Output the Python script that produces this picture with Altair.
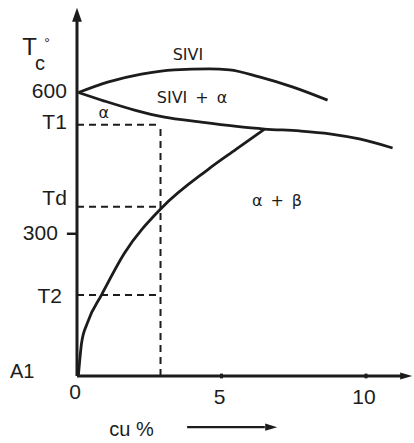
import altair as alt
import pandas as pd

# ---- curve data (cu %, temperature °C) ----
upper_cu = [0.05, 1.06, 2.23, 3.37, 4.58, 5.28, 6.31, 7.45, 8.67]
upper_t = [598, 620, 637, 646, 648, 646, 631, 610, 582]

lower_cu = [0.05, 0.95, 1.99, 3.03, 4.24, 5.45, 6.49, 7.70, 8.74, 9.77, 10.92]
lower_t = [598, 580, 561, 546, 536, 527, 521, 517, 511, 500, 481]

solvus_cu = [0.05, 0.16, 0.36, 0.85, 1.64, 2.92, 4.52, 5.5, 6.49]
solvus_t = [2, 70, 112, 171, 259, 354, 435, 478, 521]

# characteristic temperatures and composition
T1, Td, T2 = 530, 357, 171
cu_mark = 2.89

y_tick_labels = ["600", "T1", "Td", "300", "T2"]
y_tick_values = [600, 533, 373, 300, 167]
x_tick_labels = ["0", "5", "10"]
x_tick_values = [0, 5, 10]

region_labels = ["SIVI", "SIVI\u2002+\u2002α", "α", "α\u2002+\u2002β"]
region_cu = [3.84, 3.98, 0.93, 6.92]
region_t = [677, 586, 555, 369]

INK = "#1c1c1c"
FONT = "Liberation Sans"

xs = alt.Scale(domain=[-2.664, 11.661], nice=False, zero=False)
ys = alt.Scale(domain=[-141.4, 793.2], nice=False, zero=False)


def X(field="x"):
    return alt.X(f"{field}:Q", scale=xs, axis=None)


def Y(field="y"):
    return alt.Y(f"{field}:Q", scale=ys, axis=None)


def curve(cu, t):
    df = pd.DataFrame({"x": cu, "y": t})
    return alt.Chart(df).mark_line(interpolate="monotone", strokeWidth=2.8, color=INK).encode(
        x=X(), y=Y()
    )


layers = [curve(upper_cu, upper_t), curve(lower_cu, lower_t), curve(solvus_cu, solvus_t)]

# dashed guide lines
dash_h = pd.DataFrame({"x": [0, 0, 0], "x2": [cu_mark] * 3, "y": [T1, Td, T2]})
layers.append(
    alt.Chart(dash_h).mark_rule(strokeWidth=2, strokeDash=[7, 5], color=INK).encode(
        x=X(), x2="x2:Q", y=Y()
    )
)
dash_v = pd.DataFrame({"x": [cu_mark], "y": [0], "y2": [T1]})
layers.append(
    alt.Chart(dash_v).mark_rule(strokeWidth=2, strokeDash=[7, 5], color=INK).encode(
        x=X(), y=Y(), y2="y2:Q"
    )
)

# axes as arrows
axes = pd.DataFrame({"x": [0, 0], "x2": [0, 11.35], "y": [0, 0], "y2": [752, 0]})
layers.append(
    alt.Chart(axes).mark_rule(strokeWidth=3, color=INK).encode(x=X(), x2="x2:Q", y=Y(), y2="y2:Q")
)
up_arrow = pd.DataFrame({"x": [0], "y": [762]})
layers.append(
    alt.Chart(up_arrow).mark_point(
        shape="M0,-1L0.7,1L-0.7,1Z", size=196, filled=True, opacity=1, color=INK
    ).encode(x=X(), y=Y())
)
right_arrow = pd.DataFrame({"x": [11.39, 6.72], "y": [0, -108]})
layers.append(
    alt.Chart(right_arrow).mark_point(
        shape="M1,0L-1,-0.6L-1,0.6Z", size=144, filled=True, opacity=1, color=INK
    ).encode(x=X(), y=Y())
)
# composition arrow under the axis
cu_arrow = pd.DataFrame({"x": [3.81], "x2": [6.5], "y": [-108]})
layers.append(
    alt.Chart(cu_arrow).mark_rule(strokeWidth=2.2, color=INK).encode(x=X(), x2="x2:Q", y=Y())
)

# tick marks
xt = pd.DataFrame({"x": [5, 10], "y": [-5, -5], "y2": [5, 5]})
layers.append(
    alt.Chart(xt).mark_rule(strokeWidth=3, color=INK).encode(x=X(), y=Y(), y2="y2:Q")
)
yt = pd.DataFrame({"x": [-0.35], "x2": [0], "y": [300]})
layers.append(
    alt.Chart(yt).mark_rule(strokeWidth=2.5, color=INK).encode(x=X(), x2="x2:Q", y=Y())
)

# y tick labels
ylab = pd.DataFrame(
    {"label": y_tick_labels, "y": y_tick_values, "x": [-0.35, -0.35, -0.35, -0.66, -0.52]}
)
layers.append(
    alt.Chart(ylab).mark_text(align="right", baseline="middle", fontSize=21, font=FONT, color=INK).encode(
        x=X(), y=Y(), text="label:N"
    )
)
# x tick labels
xlab = pd.DataFrame({"label": x_tick_labels, "x": x_tick_values, "y": [-36, -46, -46]})
layers.append(
    alt.Chart(xlab).mark_text(align="center", baseline="middle", dx=-2, fontSize=21, font=FONT, color=INK).encode(
        x=X(), y=Y(), text="label:N"
    )
)
# A1 and cu % labels
misc = pd.DataFrame({"label": ["A1", "cu %"], "x": [-2.32, 1.12], "y": [8, -114]})
layers.append(
    alt.Chart(misc).mark_text(align="left", baseline="middle", fontSize=20, font=FONT, color=INK).encode(
        x=X(), y=Y(), text="label:N"
    )
)
# axis title T_c°
tc = pd.DataFrame({"label": ["T", "c", "°"], "x": [-1.64, -1.28, -1.04], "y": [692, 658, 700], "s": [24, 20, 14]})
for i in range(3):
    layers.append(
        alt.Chart(tc.iloc[[i]]).mark_text(
            align="center", baseline="middle", fontSize=int(tc["s"][i]), font=FONT, color=INK
        ).encode(x=X(), y=Y(), text="label:N")
    )

# region labels
reg = pd.DataFrame({"label": region_labels, "x": region_cu, "y": region_t})
layers.append(
    alt.Chart(reg).mark_text(align="center", baseline="middle", fontSize=16, font="DejaVu Sans", color=INK).encode(
        x=X(), y=Y(), text="label:N"
    )
)

chart = (
    alt.layer(*layers)
    .properties(width=414, height=443, padding=0, autosize=alt.AutoSizeParams(type="none"), background="white")
    .configure_view(stroke=None)
)

chart.save("out.html", embed_options={"renderer": "svg", "actions": False})
